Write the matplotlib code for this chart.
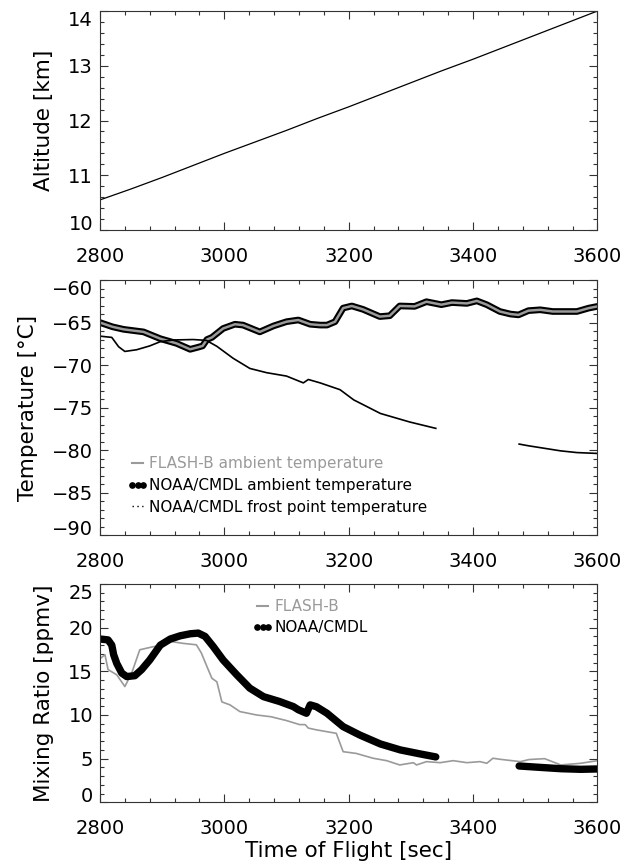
import numpy as np
import matplotlib
matplotlib.use("Agg")
import matplotlib.pyplot as plt
from matplotlib.lines import Line2D
from matplotlib.ticker import MultipleLocator

plt.rcParams['font.family'] = ['DejaVu Sans']

GRAY = '#9a9a9a'

# --- altitude (top panel)
alt_time = [2800, 2850, 2900, 2950, 3000, 3050, 3100, 3150, 3200,
            3250, 3300, 3350, 3400, 3450, 3500, 3550, 3600]
alt_km = [10.55, 10.75, 10.96, 11.18, 11.40, 11.61, 11.82, 12.04, 12.25,
          12.47, 12.69, 12.91, 13.12, 13.34, 13.56, 13.78, 14.00]

# --- temperatures (middle panel)
amb_time = [2800, 2820, 2838, 2854, 2870, 2897, 2923, 2945, 2958, 2965,
            2972, 2980, 2998, 3017, 3030, 3057, 3079, 3100, 3119, 3138,
            3154, 3165, 3178, 3191, 3205, 3223, 3250, 3266, 3282, 3306,
            3325, 3349, 3366, 3390, 3406, 3422, 3443, 3460, 3473, 3489,
            3508, 3528, 3547, 3567, 3586, 3600]
noaa_amb = [-65.0, -65.5, -65.8, -65.95, -66.1, -66.9, -67.45, -68.15, -67.9, -67.75,
            -67.0, -66.75, -65.7, -65.2, -65.3, -66.1, -65.4, -64.9, -64.7, -65.2,
            -65.3, -65.3, -64.9, -63.3, -63.05, -63.45, -64.3, -64.2, -63.05, -63.1,
            -62.55, -62.9, -62.65, -62.75, -62.45, -62.9, -63.7, -64.0, -64.1, -63.6,
            -63.5, -63.7, -63.7, -63.7, -63.3, -63.1]
flash_amb = [-65.0, -65.5, -65.8, -65.95, -66.1, -66.9, -67.45, -68.15, -67.9, -67.75,
             -67.0, -66.75, -65.7, -65.2, -65.3, -66.1, -65.4, -64.9, -64.7, -65.2,
             -65.3, -65.3, -64.9, -63.3, -63.05, -63.45, -64.3, -64.2, -63.05, -63.1,
             -62.55, -62.9, -62.65, -62.75, -62.45, -62.9, -63.7, -64.0, -64.1, -63.6,
             -63.5, -63.7, -63.7, -63.7, -63.3, -63.1]

frost_time_a = [2800, 2819, 2830, 2840, 2859, 2880, 2897, 2918, 2950, 2971,
                2988, 3014, 3041, 3068, 3100, 3127, 3135, 3154, 3186, 3208,
                3251, 3298, 3340]
frost_a = [-66.6, -66.75, -67.85, -68.4, -68.2, -67.75, -67.25, -67.05, -67.0, -67.1,
           -67.8, -69.2, -70.4, -70.9, -71.3, -72.1, -71.7, -72.1, -72.9, -74.1,
           -75.7, -76.7, -77.45]
frost_time_b = [3474, 3489, 3515, 3541, 3567, 3600]
frost_b = [-79.3, -79.5, -79.8, -80.1, -80.3, -80.4]

# --- mixing ratio (bottom panel)
noaa_time_a = [2800, 2813, 2819, 2822, 2827, 2835, 2843, 2856, 2867, 2880,
               2897, 2913, 2929, 2945, 2958, 2969, 2982, 2998, 3020, 3041,
               3063, 3089, 3111, 3119, 3132, 3138, 3148, 3165, 3191, 3218,
               3251, 3283, 3315, 3340]
noaa_mr_a = [18.7, 18.6, 18.0, 16.9, 15.9, 14.8, 14.4, 14.5, 15.2, 16.3,
             18.0, 18.7, 19.07, 19.3, 19.38, 19.0, 17.85, 16.3, 14.6, 13.07,
             12.1, 11.54, 10.96, 10.6, 10.2, 11.16, 10.95, 10.2, 8.67, 7.7,
             6.68, 6.0, 5.54, 5.2]
noaa_time_b = [3474, 3508, 3541, 3573, 3600]
noaa_mr_b = [4.16, 4.0, 3.85, 3.78, 3.82]

flash_time = [2801, 2808, 2813, 2827, 2840, 2851, 2864, 2883, 2902, 2915,
              2934, 2955, 2963, 2972, 2980, 2988, 2996, 3009, 3025, 3052,
              3075, 3100, 3121, 3130, 3135, 3148, 3180, 3191, 3212, 3239,
              3261, 3282, 3304, 3309, 3325, 3347, 3368, 3390, 3411, 3422,
              3432, 3443, 3476, 3490, 3515, 3541, 3573, 3600]
flash_mr = [16.5, 16.9, 15.2, 14.6, 13.26, 14.8, 17.47, 17.78, 18.04, 18.4,
            18.2, 18.04, 17.1, 15.55, 14.2, 13.8, 11.5, 11.16, 10.39, 10.0,
            9.8, 9.36, 8.9, 8.9, 8.5, 8.3, 7.9, 5.8, 5.6, 5.05,
            4.77, 4.28, 4.54, 4.28, 4.66, 4.54, 4.77, 4.54, 4.66, 4.47,
            5.05, 4.93, 4.66, 4.9, 5.0, 4.28, 4.47, 4.77]


def style(ax, yticks, yminor):
    ax.set_xlim(2800, 3600)
    ax.set_ylim(yticks[0], yticks[-1])
    ax.set_xticks([2800, 3000, 3200, 3400, 3600])
    ax.xaxis.set_minor_locator(MultipleLocator(40))
    ax.set_yticks(yticks)
    ax.yaxis.set_minor_locator(MultipleLocator(yminor))
    ax.tick_params(which='both', direction='in', top=True, right=True,
                   color='#333333', width=0.8)
    ax.tick_params(which='major', length=6)
    ax.tick_params(which='minor', length=3)
    ax.tick_params(axis='x', pad=12, labelsize=14)
    ax.tick_params(axis='y', pad=5, labelsize=14)
    for s in ax.spines.values():
        s.set_color('#333333')
        s.set_linewidth(0.8)
    # end labels sit inside the axis range, as in the original
    labs = ax.get_yticklabels()
    labs[0].set_va('baseline')
    labs[-1].set_va('top')


fig = plt.figure(figsize=(6.28, 8.67), dpi=100)
ax1 = fig.add_axes([0.1592, 0.7347, 0.7922, 0.2526])
ax2 = fig.add_axes([0.1592, 0.3829, 0.7922, 0.2941])
ax3 = fig.add_axes([0.1592, 0.0746, 0.7922, 0.2518])

# top
ax1.plot(alt_time, alt_km, color='black', lw=0.9)
style(ax1, [10, 11, 12, 13, 14], 0.2)
ax1.set_ylabel('Altitude [km]', fontsize=15.5, labelpad=10)

# middle
ax2.plot(amb_time, noaa_amb, color='black', lw=4.8,
         solid_capstyle='round', solid_joinstyle='round')
ax2.plot(amb_time, flash_amb, color=GRAY, lw=1.8)
ax2.plot(frost_time_a, frost_a, color='black', lw=1.2)
ax2.plot(frost_time_b, frost_b, color='black', lw=1.2)
style(ax2, [-90, -85, -80, -75, -70, -65, -60], 1)
ax2.set_ylabel('Temperature [°C]', fontsize=15.5, labelpad=10)

h1 = Line2D([], [], color=GRAY, lw=1.5)
h2 = Line2D([], [], color='black', marker='o', ms=3.8, ls='none')
h3 = Line2D([], [], color='black', lw=1, ls=(0, (1, 2.5)))
leg = ax2.legend([h1, h2, h3],
                 ['FLASH-B ambient temperature',
                  'NOAA/CMDL ambient temperature',
                  'NOAA/CMDL frost point temperature'],
                 loc='upper left', bbox_to_anchor=(0.055, 0.31),
                 frameon=False, fontsize=11, handlelength=1.35,
                 handletextpad=0.1, labelspacing=0.45, borderpad=0,
                 borderaxespad=0, numpoints=3)
for t, c in zip(leg.get_texts(), [GRAY, 'black', 'black']):
    t.set_color(c)

# bottom
ax3.plot(flash_time, flash_mr, color=GRAY, lw=1.2)
ax3.plot(noaa_time_a, noaa_mr_a, color='black', lw=5.3,
         solid_capstyle='round', solid_joinstyle='round')
ax3.plot(noaa_time_b, noaa_mr_b, color='black', lw=5.3,
         solid_capstyle='round', solid_joinstyle='round')
style(ax3, [0, 5, 10, 15, 20, 25], 1)
ax3.set_ylabel('Mixing Ratio [ppmv]', fontsize=15.5, labelpad=10)
ax3.set_xlabel('Time of Flight [sec]', fontsize=15.5, labelpad=2)

leg3 = ax3.legend([h1, h2], ['FLASH-B', 'NOAA/CMDL'],
                  loc='upper left', bbox_to_anchor=(0.306, 0.932),
                  frameon=False, fontsize=11, handlelength=1.35,
                  handletextpad=0.1, labelspacing=0.4, borderpad=0,
                  borderaxespad=0, numpoints=3)
for t, c in zip(leg3.get_texts(), [GRAY, 'black']):
    t.set_color(c)

fig.savefig('out.png', dpi=100)
